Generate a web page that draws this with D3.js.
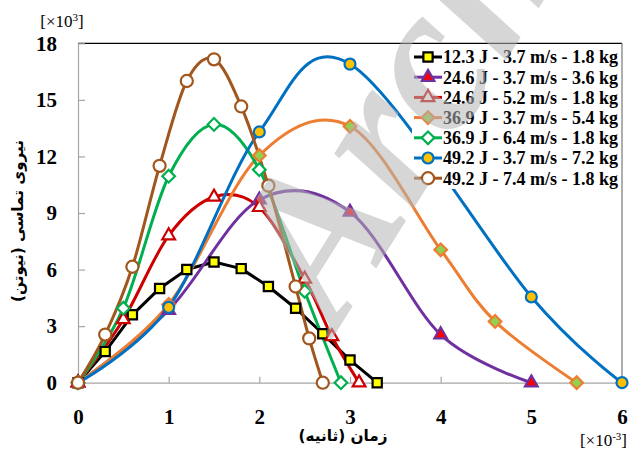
<!DOCTYPE html>
<html><head><meta charset="utf-8">
<script src="https://cdn.jsdelivr.net/npm/d3@7"></script>
<style>
html,body{margin:0;padding:0;background:#fff;}
svg{display:block;}
</style></head>
<body>
<svg id="chart" width="629" height="453"></svg>
<script>
// ---------------- data ----------------
const xTicks = [0,1,2,3,4,5,6];
const yTicks = [0,3,6,9,12,15,18];
const seriesNames = [
  "12.3 J - 3.7 m/s - 1.8 kg",
  "24.6 J - 3.7 m/s - 3.6 kg",
  "24.6 J - 5.2 m/s - 1.8 kg",
  "36.9 J - 3.7 m/s - 5.4 kg",
  "36.9 J - 6.4 m/s - 1.8 kg",
  "49.2 J - 3.7 m/s - 7.2 kg",
  "49.2 J - 7.4 m/s - 1.8 kg"
];
const s1x = [0,0.3,0.6,0.9,1.2,1.5,1.8,2.1,2.4,2.7,3.0,3.3];
const s1y = [0,1.65,3.6,5.0,6.0,6.4,6.05,5.1,3.95,2.6,1.2,0];
const s2x = [0,1,2,3,4,5];
const s2y = [0,3.85,9.7,9.05,2.55,0];
const s3x = [0,0.5,1,1.5,2,2.5,2.8,3.1];
const s3y = [0,3.35,7.8,9.85,9.3,5.5,2.45,0];
const s4x = [0,1,2,3,4,4.6,5.5];
const s4y = [0,4.15,12.05,13.6,7.05,3.25,0];
const s5x = [0,0.5,1,1.5,2,2.5,2.9];
const s5y = [0,3.95,10.95,13.7,11.3,4.85,0];
const s6x = [0,1,2,3,5,6];
const s6y = [0,4.0,13.3,16.9,4.55,0];
const s7x = [0,0.3,0.6,0.9,1.2,1.5,1.8,2.1,2.4,2.55,2.7];
const s7y = [0,2.55,6.15,11.5,16.0,17.15,14.65,10.45,5.1,2.35,0];

// ---------------- styles ----------------
const styles = [
  {stroke:"#000000", fill:"#ffff00", sym:"square",   size:85,  smooth:false},
  {stroke:"#7030a0", fill:"#ff0000", sym:"triangle", size:70,  smooth:true},
  {stroke:"#cc0000", fill:"#ffffff", sym:"triangle", size:70,  smooth:true},
  {stroke:"#ed7d31", fill:"#92d050", sym:"diamond",  size:80,  smooth:true},
  {stroke:"#00b050", fill:"#ffffff", sym:"diamond",  size:80,  smooth:true},
  {stroke:"#0070c0", fill:"#ffc000", sym:"circle",   size:95,  smooth:true},
  {stroke:"#a0561c", fill:"#ffffff", sym:"circle",   size:115, smooth:true}
];
const xs = [s1x,s2x,s3x,s4x,s5x,s6x,s7x];
const ys = [s1y,s2y,s3y,s4y,s5y,s6y,s7y];
const series = seriesNames.map((n,i)=>({name:n, style:styles[i],
  pts: xs[i].map((x,j)=>({x:x, y:ys[i][j]}))}));

const svg = d3.select("#chart");
const x = d3.scaleLinear().domain([0,6]).range([78,622]);
const y = d3.scaleLinear().domain([0,18]).range([382.7,43.3]);

// plot frame top/right
svg.append("line").attr("x1",78).attr("x2",622).attr("y1",43.3).attr("y2",43.3)
  .attr("stroke","#000").attr("stroke-width",1.2);
svg.append("line").attr("x1",622).attr("x2",622).attr("y1",43.3).attr("y2",382.7)
  .attr("stroke","#777").attr("stroke-width",1.2);

// axes
const tickFont = "'Liberation Serif','Times New Roman',serif";
const gx = svg.append("g").attr("transform","translate(0,382.7)")
  .call(d3.axisBottom(x).tickValues(xTicks).tickFormat(d3.format("d")).tickSize(-6).tickSizeOuter(0).tickPadding(26));
const gy = svg.append("g").attr("transform","translate(78,0)")
  .call(d3.axisLeft(y).tickValues(yTicks).tickFormat(d3.format("d")).tickSize(-7).tickSizeOuter(0).tickPadding(21));
[gx,gy].forEach(g=>{
  g.select(".domain").attr("stroke","#a6a6a6").attr("stroke-width",1.2);
  g.selectAll(".tick line").attr("stroke","#a6a6a6").attr("stroke-width",1.2);
  g.selectAll(".tick text").attr("fill","#000").style("font-family",tickFont)
    .style("font-weight","bold").style("font-size","21px");
});

// symbols
function symPath(s){
  const t = s.sym==="square"?d3.symbolSquare: s.sym==="triangle"?d3.symbolTriangle:
            s.sym==="diamond"?d3.symbolSquare: d3.symbolCircle;
  return d3.symbol().type(t).size(s.size)();
}

const lineGen = (smooth)=>d3.line().x(d=>x(d.x)).y(d=>y(d.y))
  .curve(smooth?d3.curveCardinal.tension(0):d3.curveLinear);

const gLines = svg.append("g");
series.forEach(s=>{
  gLines.append("path").attr("d",lineGen(s.style.smooth)(s.pts))
    .attr("fill","none").attr("stroke",s.style.stroke).attr("stroke-width",3)
    .attr("stroke-linejoin","round");
});
const gMarks = svg.append("g");
series.forEach(s=>{
  gMarks.selectAll(null).data(s.pts).enter().append("path")
    .attr("d",symPath(s.style))
    .attr("transform",d=>`translate(${x(d.x)},${y(d.y)})`+(s.style.sym==="diamond"?" rotate(45)":""))
    .attr("fill",s.style.fill).attr("stroke",s.style.stroke).attr("stroke-width",2.2);
});

// legend
const lg = svg.append("g");
lg.append("rect").attr("x",412).attr("y",44).attr("width",209).attr("height",145).attr("fill","#fff");
series.forEach((s,i)=>{
  const cy = 57 + i*20.2;
  lg.append("line").attr("x1",414).attr("x2",442).attr("y1",cy).attr("y2",cy)
    .attr("stroke",s.style.stroke).attr("stroke-width",3);
  lg.append("path").attr("d",symPath(s.style))
    .attr("transform",`translate(428,${cy})`+(s.style.sym==="diamond"?" rotate(45)":""))
    .attr("fill",s.style.fill).attr("stroke",s.style.stroke).attr("stroke-width",2.2);
  lg.append("text").attr("x",443).attr("y",cy+6.3).text(s.name)
    .style("font-family",tickFont).style("font-weight","bold").style("font-size","18px");
});

// axis titles
function fitWidth(sel, w){
  const cur = sel.node().getComputedTextLength();
  const fs = parseFloat(sel.style("font-size"));
  if(cur>0) sel.style("font-size",(fs*w/cur)+"px");
}
const persianFont = "'DejaVu Sans','Noto Sans',sans-serif";
const xt = svg.append("text").attr("x",343).attr("y",441).attr("text-anchor","middle")
  .attr("direction","rtl").style("font-family",persianFont).style("font-weight","bold")
  .style("font-size","16px").text("زمان (ثانیه)");
fitWidth(xt, 89);
const yt = svg.append("text").attr("transform","translate(23,221) rotate(-90)").attr("text-anchor","middle")
  .attr("direction","rtl").style("font-family",persianFont).style("font-weight","bold")
  .style("font-size","16px").text("نیروی تماسی (نیوتن)");
fitWidth(yt, 162);

// unit labels
const ut = svg.append("text").attr("x",62).attr("y",27).attr("text-anchor","middle")
  .style("font-family",tickFont).style("font-size","17px");
ut.append("tspan").text("[×10");
ut.append("tspan").attr("dy",-6).style("font-size","11px").text("3");
ut.append("tspan").attr("dy",6).text("]");
const ux = svg.append("text").attr("x",627).attr("y",446).attr("text-anchor","end")
  .style("font-family",tickFont).style("font-size","17px");
ux.append("tspan").text("[×10");
ux.append("tspan").attr("dy",-6).style("font-size","11px").text("-3");
ux.append("tspan").attr("dy",6).text("]");

// watermark
svg.append("text").attr("transform","translate(337,331) rotate(-58)")
  .style("font-family",tickFont).style("font-weight","bold").style("font-style","italic")
  .style("font-size","210px").attr("fill","#b4b4b4").attr("fill-opacity",0.55)
  .text("Archive");
</script>
</body></html>
